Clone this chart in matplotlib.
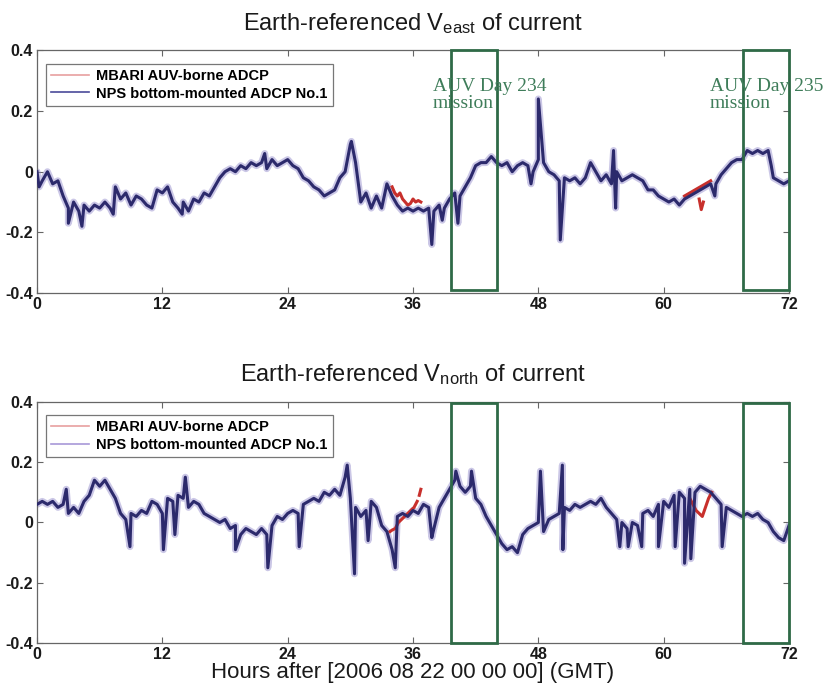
import numpy as np
import matplotlib
matplotlib.use("Agg")
import matplotlib.pyplot as plt
from matplotlib.patches import Rectangle

plt.rcParams['font.family'] = ['Liberation Sans', 'DejaVu Sans']
plt.rcParams['mathtext.fontset'] = 'custom'
plt.rcParams['mathtext.rm'] = 'Liberation Sans'
plt.rcParams['mathtext.it'] = 'Liberation Sans'

# ---------------- data ----------------
step_hours = np.arange(0, 72.01, 0.5)

east_npv = [0.00, -0.03, 0.00, -0.04, -0.03, -0.08, -0.12, -0.10, -0.13, -0.11,
            -0.13, -0.11, -0.12, -0.10, -0.12, -0.05, -0.09, -0.07, -0.11, -0.08,
            -0.09, -0.11, -0.12, -0.06, -0.07, -0.05, -0.10, -0.12, -0.10, -0.13,
            -0.09, -0.10, -0.07, -0.08, -0.05, -0.02, 0.00, 0.01, 0.00, 0.02,
            0.01, 0.03, 0.02, 0.03, 0.01, 0.04, 0.02, 0.03, 0.04, 0.02,
            0.01, -0.02, -0.03, -0.05, -0.06, -0.08, -0.07, -0.06, -0.02, 0.00,
            0.09, 0.03, -0.10, -0.07, -0.12, -0.08, -0.12, -0.04, -0.08, -0.11,
            -0.13, -0.12, -0.13, -0.12, -0.13, -0.12, -0.13, -0.11, -0.12, -0.09,
            -0.07, -0.08, -0.05, -0.02, 0.02, 0.03, 0.03, 0.05, 0.03, 0.02,
            0.03, 0.00, 0.02, 0.03, 0.02, 0.00, 0.04, 0.03, 0.00, -0.01,
            -0.03, -0.02, -0.03, -0.02, -0.04, -0.02, 0.03, 0.00, -0.03, -0.01,
            -0.04, 0.00, -0.03, -0.02, -0.01, -0.02, -0.03, -0.06, -0.06, -0.08,
            -0.09, -0.10, -0.09, -0.11, -0.09, -0.08, -0.07, -0.06, -0.05, -0.04,
            -0.04, -0.01, 0.01, 0.03, 0.04, 0.04, 0.07, 0.06, 0.07, 0.06,
            0.07, -0.02, -0.03, -0.04, -0.03]
east_spike_hours = [0.2, 3.0, 4.3, 7.3, 13.9, 21.8, 30.1, 37.8, 38.8, 40.3, 48.0, 50.1, 55.2, 55.4, 47.3, 64.9, 70.3]
east_spike_vals = [-0.05, -0.17, -0.18, -0.14, -0.14, 0.06, 0.10, -0.24, -0.16, -0.17, 0.24, -0.225, 0.07, -0.12, -0.04, -0.08, 0.02]

east_auv_hours = [34.0, 34.25, 34.5, 34.75, 35.0, 35.25, 35.5, 35.75, 36.0, 36.25, 36.5, 36.75, np.nan,
                  62.0, 62.25, 62.5, 62.75, 63.0, 63.25, 63.5, 63.75, 64.0, 64.25, 64.5, np.nan,
                  63.4, 63.6, 63.8]
east_auv_vals = [-0.05, -0.07, -0.08, -0.07, -0.09, -0.10, -0.11, -0.105, -0.09, -0.10, -0.095, -0.10, np.nan,
                 -0.08, -0.075, -0.07, -0.065, -0.06, -0.055, -0.05, -0.045, -0.04, -0.035, -0.03, np.nan,
                 -0.09, -0.125, -0.10]

north_npv = [0.06, 0.07, 0.06, 0.07, 0.05, 0.06, 0.03, 0.05, 0.03, 0.07,
             0.09, 0.14, 0.12, 0.14, 0.11, 0.08, 0.03, 0.01, 0.03, 0.02,
             0.04, 0.03, 0.07, 0.06, 0.03, 0.08, 0.07, 0.09, 0.08, 0.05,
             0.07, 0.06, 0.03, 0.02, 0.01, 0.00, 0.01, -0.02, -0.01, -0.04,
             -0.02, -0.03, -0.04, -0.02, -0.04, -0.01, 0.02, 0.01, 0.03, 0.04,
             0.03, 0.06, 0.07, 0.08, 0.07, 0.10, 0.09, 0.11, 0.09, 0.15,
             0.08, 0.05, 0.02, 0.04, 0.07, 0.05, -0.01, -0.03, -0.09, 0.02,
             0.03, 0.02, 0.04, 0.03, 0.06, 0.05, -0.02, 0.05, 0.08, 0.11,
             0.14, 0.12, 0.10, 0.12, 0.08, 0.06, 0.02, -0.01, -0.04, -0.07,
             -0.09, -0.08, -0.10, -0.04, -0.02, -0.01, 0.00, -0.03, 0.01, 0.02,
             0.03, 0.05, 0.04, 0.06, 0.05, 0.06, 0.07, 0.06, 0.08, 0.05,
             0.03, 0.01, 0.00, -0.02, 0.00, -0.01, 0.03, 0.04, 0.02, 0.06,
             0.07, 0.05, 0.09, 0.10, 0.08, 0.11, 0.10, 0.12, 0.11, 0.10,
             0.08, 0.06, 0.05, 0.04, 0.03, 0.02, 0.03, 0.02, 0.03, 0.01,
             0.00, -0.03, -0.05, -0.06, -0.01]
north_spike_hours = [2.8, 8.9, 12.1, 13.2, 14.2, 19.0, 22.1, 25.1, 29.7, 30.4, 31.7, 34.3, 37.8, 40.1, 41.6,
                     48.2, 50.3, 50.35, 55.8, 56.6, 57.9, 59.5, 61.1, 62.0, 62.6, 65.6]
north_spike_vals = [0.11, -0.08, -0.09, -0.04, 0.15, -0.09, -0.15, -0.08, 0.19, -0.17, -0.06, -0.15, -0.05, 0.17, 0.17,
                    0.17, 0.19, -0.09, -0.08, -0.08, -0.08, -0.08, -0.08, -0.135, -0.12, -0.08]

north_auv_hours = [33.8, 34.0, 34.3, 34.6, 34.9, 35.2, 35.5, 35.8, 36.1, 36.4, np.nan, 36.6, 36.75, np.nan,
                   62.5, 62.8, 63.1, 63.4, 63.7, 64.0, 64.3, 64.6]
north_auv_vals = [-0.03, -0.025, -0.02, 0.00, 0.01, 0.02, 0.03, 0.04, 0.05, 0.07, np.nan, 0.09, 0.11, np.nan,
                  0.08, 0.06, 0.04, 0.03, 0.02, 0.05, 0.08, 0.10]

mission_boxes = [(39.65, 44.05), (67.6, 72.0)]
x_ticks = [0, 12, 24, 36, 48, 60, 72]
y_ticks = [-0.4, -0.2, 0, 0.2, 0.4]

# ---------------- drawing ----------------
fig = plt.figure(figsize=(8.3, 6.92), dpi=100)
ax1 = fig.add_axes([0.0446, 0.5766, 0.9060, 0.3505])
ax2 = fig.add_axes([0.0446, 0.0704, 0.9060, 0.3491])

navy = '#2c2a6c'
halo = '#8c84c8'
red = '#c8302c'
green = '#2f6a47'


def merged(hours, vals, sh, sv):
    h = np.concatenate([np.asarray(hours, float), np.asarray(sh, float)])
    v = np.concatenate([np.asarray(vals, float), np.asarray(sv, float)])
    o = np.argsort(h, kind='stable')
    return h[o], v[o]


def panel(ax, npv, sh, sv, auv_h, auv_v, title, box_y, legend_blue, texts):
    h, v = merged(step_hours, npv, sh, sv)
    ax.plot(h, v, color=halo, lw=5.0, alpha=0.45, zorder=2,
            solid_joinstyle='round', solid_capstyle='round')
    ax.plot(auv_h, auv_v, color=red, lw=2.2, zorder=3)
    ax.plot(h, v, color=navy, lw=2.2, zorder=4, solid_joinstyle='round')
    for (a, b) in mission_boxes:
        ax.add_patch(Rectangle((a, box_y[0]), b - a, box_y[1] - box_y[0], fill=False,
                               edgecolor=green, lw=2.0, zorder=5, clip_on=False))
    for (tx, ty, s) in texts:
        ax.text(tx, ty, s, color='#3f7d5a', family=['Liberation Serif', 'DejaVu Serif'],
                fontsize=14, va='top', ha='left', linespacing=1.0, zorder=6)
    ax.set_xlim(0, 72)
    ax.set_ylim(-0.4, 0.4)
    ax.set_xticks(x_ticks)
    ax.set_yticks(y_ticks)
    ax.set_yticklabels(['-0.4', '-0.2', '0', '0.2', '0.4'])
    ax.tick_params(direction='in', top=True, right=True, length=4, width=0.8,
                   colors='#666666', labelcolor='#1a1a1a', labelsize=11.5, pad=3)
    for lab in ax.get_xticklabels() + ax.get_yticklabels():
        lab.set_fontweight('bold')
    for s in ax.spines.values():
        s.set_color('#666666')
        s.set_linewidth(0.9)
    ax.set_title(title, fontsize=17, pad=15, color='#1a1a1a')
    l1, = ax.plot([], [], color='#e8a0a0', lw=1.2)
    l2, = ax.plot([], [], color=legend_blue, lw=1.2)
    leg = ax.legend([l1, l2], ['MBARI AUV-borne ADCP', 'NPS bottom-mounted ADCP No.1'],
                    loc='upper left', bbox_to_anchor=(0.002, 0.975),
                    prop={'size': 10.5, 'weight': 'bold'},
                    handlelength=2.6, handletextpad=0.5, borderpad=0.35, labelspacing=0.25,
                    fancybox=False, framealpha=1, edgecolor='#777777')
    leg.get_frame().set_linewidth(0.9)


panel(ax1, east_npv, east_spike_hours, east_spike_vals, east_auv_hours, east_auv_vals,
      r'Earth-referenced V$_{\mathrm{east}}$ of current', (-0.39, 0.40), '#4a4a9a',
      [(37.9, 0.31, 'AUV Day 234\nmission'), (64.4, 0.31, 'AUV Day 235\nmission')])
panel(ax2, north_npv, north_spike_hours, north_spike_vals, north_auv_hours, north_auv_vals,
      r'Earth-referenced V$_{\mathrm{north}}$ of current', (-0.40, 0.395), '#a898d8', [])

ax2.set_xlabel('Hours after [2006 08 22 00 00 00] (GMT)', fontsize=16, labelpad=0, color='#1a1a1a')

fig.savefig('out.png', dpi=100, facecolor='white')
